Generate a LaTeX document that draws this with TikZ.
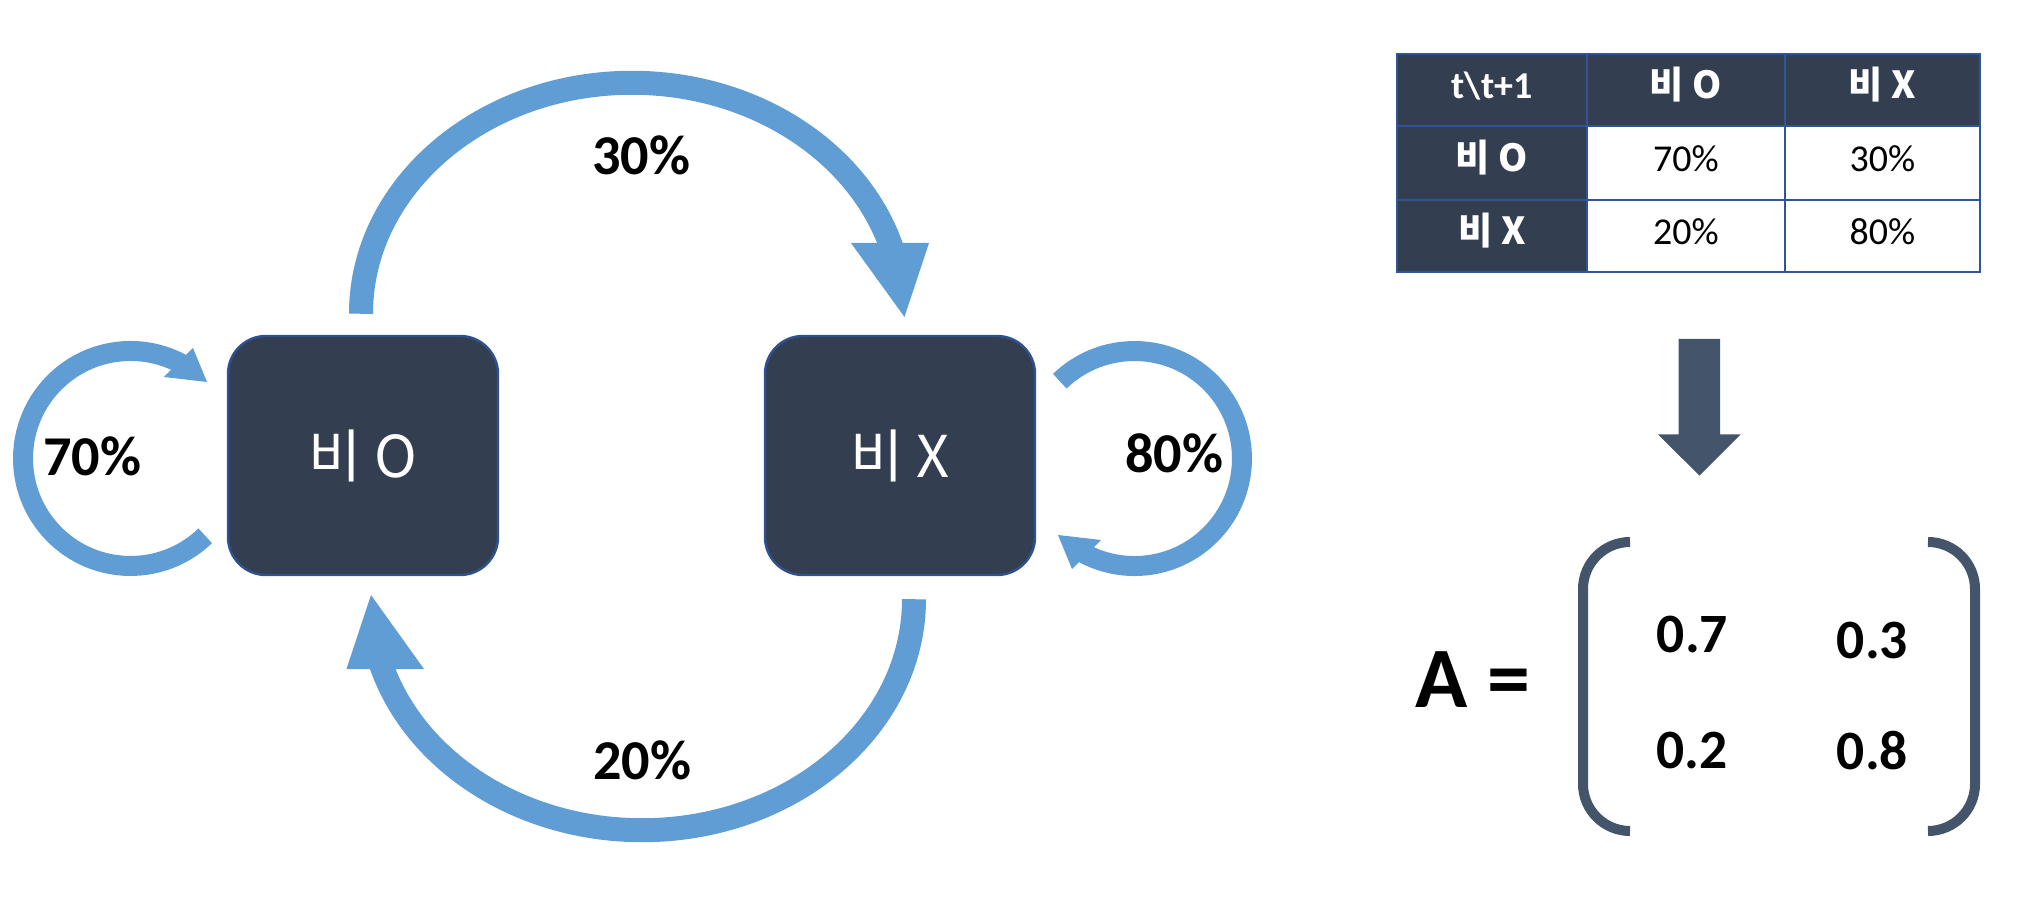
\documentclass[tikz,border=0pt]{standalone}
\usepackage{fontspec}
\setmainfont{Carlito}
\newfontfamily\kr{Noto Sans CJK KR}
\usetikzlibrary{calc}
\definecolor{flowblue}{HTML}{5F9DD4}
\definecolor{nodefill}{HTML}{333F50}
\definecolor{nodeline}{HTML}{2F528F}
\definecolor{slate}{HTML}{44546A}
\definecolor{tblline}{HTML}{2F5597}
\begin{document}
\begin{tikzpicture}
\useasboundingbox (0,0) rectangle (20.28,-8.98);
\tikzset{
 state/.style={draw=nodeline, line width=0.7pt, fill=nodefill, rounded corners=0.38cm,
   minimum width=2.70cm, minimum height=2.39cm, text=white, inner sep=0pt,
   font=\kr\fontsize{16.4}{19}\selectfont},
 flow/.style={draw=flowblue, line width=0.24cm, line cap=butt},
 loopflow/.style={draw=flowblue, line width=0.20cm, line cap=butt},
 head/.style={fill=flowblue},
 lbl/.style={font=\bfseries\fontsize{16}{19}\selectfont, inner sep=0pt},
 cell/.style={draw=tblline, line width=0.6pt, inner sep=0pt, text height=0.25cm, text depth=0.08cm},
 hcell/.style={cell, fill=nodefill, text=white, font=\bfseries\fontsize{10.8}{12}\selectfont},
 kcell/.style={cell, fill=nodefill, text=white, font=\kr\bfseries\fontsize{10.6}{12}\selectfont},
 bcell/.style={cell, fill=white, text=black, font=\fontsize{10.8}{13}\selectfont},
 colA/.style={minimum width=1.90cm}, colB/.style={minimum width=1.98cm}, colC/.style={minimum width=1.955cm},
 rowA/.style={minimum height=0.72cm}, rowB/.style={minimum height=0.74cm}, rowC/.style={minimum height=0.72cm},
 mval/.style={font=\bfseries\fontsize{15.8}{18}\selectfont, inner sep=0pt},
 bracket/.style={draw=slate, line width=0.10cm},
}
% states
\node[state] (o) at (3.63,-4.555) {비 O};
\node[state] (x) at (9.00,-4.555) {비 X};

% top arc 30%
\coordinate (s30) at ($(o.north)+(-0.02,0.21)$);
\coordinate (h30) at (9.045,-3.17);
\draw[flow] (s30) arc[start angle=180,end angle=15,x radius=2.71cm,y radius=2.31cm];
\fill[head] (8.51,-2.43) -- (9.29,-2.43) -- (h30) -- cycle;
\node[lbl] (l30) at (6.41,-1.55) {30\%};

% bottom arc 20%
\coordinate (s20) at ($(x.south)+(0.14,-0.23)$);
\coordinate (h20) at (3.71,-5.95);
\draw[flow] (s20) arc[start angle=0,end angle=-165,x radius=2.72cm,y radius=2.31cm];
\fill[head] (3.465,-6.69) -- (4.24,-6.69) -- (h20) -- cycle;
\node[lbl] (l20) at (6.42,-7.60) {20\%};

% left loop 70%
\coordinate (s70) at (2.052,-5.358);
\coordinate (h70) at (2.07,-3.82);
\draw[loopflow] (s70) arc[start angle=-46,end angle=-300,radius=1.075cm];
\fill[head] (1.64,-3.77) -- (1.93,-3.48) -- (h70) -- cycle;
\node[lbl] (l70) at (0.92,-4.56) {70\%};

% right loop 80%
\coordinate (s80) at (10.598,-3.812);
\coordinate (h80) at (10.58,-5.35);
\draw[loopflow] (s80) arc[start angle=134,end angle=-120,radius=1.075cm];
\fill[head] (11.01,-5.40) -- (10.72,-5.69) -- (h80) -- cycle;
\node[lbl] (l80) at (11.74,-4.53) {80\%};

% table
\node[hcell,colA,rowA] (c11) at (14.92,-0.90) {t\textbackslash t+1};
\node[kcell,colB,rowA] (c12) at (16.86,-0.90) {비 O};
\node[kcell,colC,rowA] (c13) at (18.825,-0.90) {비 X};
\node[kcell,colA,rowB] (c21) at (14.92,-1.63) {비 O};
\node[bcell,colB,rowB] (c22) at (16.86,-1.63) {70\%};
\node[bcell,colC,rowB] (c23) at (18.825,-1.63) {30\%};
\node[kcell,colA,rowC] (c31) at (14.92,-2.36) {비 X};
\node[bcell,colB,rowC] (c32) at (16.86,-2.36) {20\%};
\node[bcell,colC,rowC] (c33) at (18.825,-2.36) {80\%};

% down arrow
\fill[slate] (16.785,-3.39) -- (17.20,-3.39) -- (17.20,-4.345) -- (17.405,-4.345)
  -- (16.995,-4.756) -- (16.58,-4.345) -- (16.785,-4.345) -- cycle;

% matrix
\node[inner sep=0pt, font=\bfseries\fontsize{24.5}{28}\selectfont] (A) at (14.73,-6.80) {A =};
\draw[bracket] (16.30,-5.42) arc[start angle=90,end angle=180,x radius=0.47cm,y radius=0.47cm]
  -- (15.83,-7.84) arc[start angle=180,end angle=270,x radius=0.47cm,y radius=0.47cm];
\draw[bracket] (19.28,-5.42) arc[start angle=90,end angle=0,x radius=0.47cm,y radius=0.47cm]
  -- (19.75,-7.84) arc[start angle=0,end angle=-90,x radius=0.47cm,y radius=0.47cm];
\node[mval] (m11) at (16.925,-6.345) {0.7};
\node[mval] (m12) at (18.725,-6.405) {0.3};
\node[mval] (m21) at (16.92,-7.505) {0.2};
\node[mval] (m22) at (18.725,-7.505) {0.8};
\end{tikzpicture}
\end{document}
